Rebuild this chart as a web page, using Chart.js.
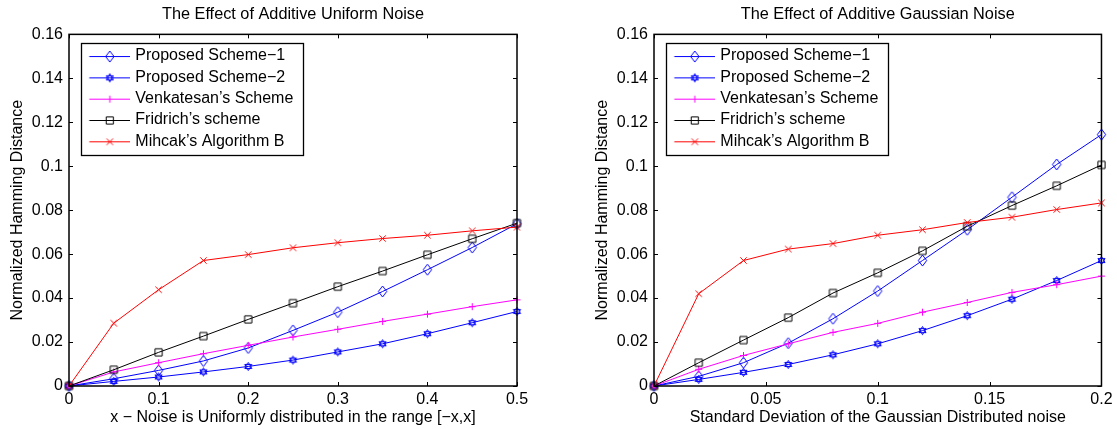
<!DOCTYPE html>
<html>
<head>
<meta charset="utf-8">
<script src="https://cdn.jsdelivr.net/npm/chart.js@4/dist/chart.umd.min.js"></script>
<style>
  html, body { margin: 0; padding: 0; background: #fff; }
  body { width: 1117px; height: 429px; position: relative; overflow: hidden; }
  canvas { position: absolute; top: 0; }
  #uniform-chart { left: 0; }
  #gauss-chart { left: 585px; }
</style>
</head>
<body>
<canvas id="uniform-chart" width="560" height="429"></canvas>
<canvas id="gauss-chart" width="532" height="429"></canvas>
<script>
// ---- data ----
var seriesNames = ["Proposed Scheme\u22121", "Proposed Scheme\u22122", "Venkatesan\u2019s Scheme", "Fridrich\u2019s scheme", "Mihcak\u2019s Algorithm B"];

// uniform noise, x = half width of the range
var xUniform = [0, 0.05, 0.1, 0.15, 0.2, 0.25, 0.3, 0.35, 0.4, 0.45, 0.5];
var scheme1U = [0, 0.0033, 0.0071, 0.0114, 0.0173, 0.0253, 0.0336, 0.0430, 0.0529, 0.0630, 0.0738];
var scheme2U = [0, 0.0021, 0.0041, 0.0064, 0.0089, 0.0118, 0.0155, 0.0192, 0.0238, 0.0288, 0.0339];
var venkatU  = [0, 0.0064, 0.0106, 0.0147, 0.0185, 0.0223, 0.0258, 0.0294, 0.0327, 0.0361, 0.0392];
var fridU    = [0, 0.0074, 0.0153, 0.0227, 0.0303, 0.0377, 0.0452, 0.0523, 0.0597, 0.0670, 0.0741];
var mihcakU  = [0, 0.0286, 0.0438, 0.0571, 0.0598, 0.0629, 0.0652, 0.0671, 0.0686, 0.0706, 0.0723];

// gaussian noise, x = standard deviation
var xGauss   = [0, 0.02, 0.04, 0.06, 0.08, 0.1, 0.12, 0.14, 0.16, 0.18, 0.2];
var scheme1G = [0, 0.0044, 0.0106, 0.0195, 0.0306, 0.0432, 0.0571, 0.0711, 0.0859, 0.1008, 0.1144];
var scheme2G = [0, 0.0030, 0.0062, 0.0098, 0.0142, 0.0192, 0.0252, 0.0320, 0.0395, 0.0480, 0.0571];
var venkatG  = [0, 0.0076, 0.0139, 0.0192, 0.0244, 0.0285, 0.0336, 0.0380, 0.0426, 0.0461, 0.0500];
var fridG    = [0, 0.0106, 0.0209, 0.0311, 0.0423, 0.0515, 0.0615, 0.0727, 0.0821, 0.0911, 0.1006];
var mihcakG  = [0, 0.0420, 0.0571, 0.0623, 0.0648, 0.0686, 0.0711, 0.0744, 0.0768, 0.0803, 0.0833];

var yTicks = [0, 0.02, 0.04, 0.06, 0.08, 0.1, 0.12, 0.14, 0.16];

var colors  = ["#0000ff", "#0000ff", "#ff00ff", "#000000", "#ff0000"];
var markers = ["diamond", "hexagram", "plus", "square", "x"];

Chart.defaults.font.family = "'Liberation Sans', Arial, Helvetica, sans-serif";
Chart.defaults.color = "#000";

// matlab style open markers, drawn on small canvases
function strokeMarker(ctx, kind, c) {
  ctx.beginPath();
  if (kind == "diamond") {
    ctx.moveTo(c, c - 5.5); ctx.lineTo(c + 4.2, c); ctx.lineTo(c, c + 5.5); ctx.lineTo(c - 4.2, c); ctx.closePath();
  } else if (kind == "hexagram") {
    var r = 4.1;
    [-90, 90].forEach(function(start) {
      for (var k = 0; k < 3; k++) {
        var a = (start + k * 120) * Math.PI / 180;
        if (k == 0) ctx.moveTo(c + r * Math.cos(a), c + r * Math.sin(a));
        else ctx.lineTo(c + r * Math.cos(a), c + r * Math.sin(a));
      }
      ctx.closePath();
    });
  } else if (kind == "plus") {
    ctx.moveTo(c - 3.5, c); ctx.lineTo(c + 3.5, c); ctx.moveTo(c, c - 3.5); ctx.lineTo(c, c + 3.5);
  } else if (kind == "square") {
    ctx.rect(c - 3.6, c - 3.6, 7.2, 7.2);
  } else {
    ctx.moveTo(c - 3.2, c - 3.2); ctx.lineTo(c + 3.2, c + 3.2); ctx.moveTo(c + 3.2, c - 3.2); ctx.lineTo(c - 3.2, c + 3.2);
  }
  ctx.stroke();
}

function makeMarker(kind, color) {
  var cv = document.createElement("canvas");
  cv.width = 13; cv.height = 13;
  var ctx = cv.getContext("2d");
  ctx.strokeStyle = color; ctx.lineWidth = 1;
  strokeMarker(ctx, kind, 6.5);
  return cv;
}

// legend sample: short line with the marker in the middle
function makeLegendIcon(kind, color) {
  var cv = document.createElement("canvas");
  cv.width = 46; cv.height = 14;
  var ctx = cv.getContext("2d");
  ctx.strokeStyle = color; ctx.lineWidth = 1;
  ctx.beginPath(); ctx.moveTo(5.5, 7.5); ctx.lineTo(46, 7.5); ctx.stroke();
  ctx.save(); ctx.translate(26 - 6.5 + 0.5, 7.5 - 6.5 + 0.5);
  strokeMarker(ctx, kind, 6);
  ctx.restore();
  return cv;
}

function tickText(v) { return String(Number(Number(v).toFixed(4))); }

// box round the axes, inward ticks on all four sides, frame round the legend
var axesBox = {
  id: "axesBox",
  afterLayout: function(chart) {
    var lg = chart.legend;
    lg.left = chart.chartArea.left + 12;
    lg.top = chart.chartArea.top + 8.4;
  },
  afterDraw: function(chart) {
    var ctx = chart.ctx, a = chart.chartArea, x = chart.scales.x, y = chart.scales.y;
    ctx.save();
    ctx.strokeStyle = "#000";
    ctx.lineWidth = 1;
    ctx.beginPath();
    x.ticks.forEach(function(t) {
      var px = Math.round(x.getPixelForValue(t.value)) + 0.5;
      ctx.moveTo(px, a.bottom); ctx.lineTo(px, a.bottom - 4);
      ctx.moveTo(px, a.top); ctx.lineTo(px, a.top + 4);
    });
    y.ticks.forEach(function(t) {
      var py = Math.round(y.getPixelForValue(t.value)) + 0.5;
      ctx.moveTo(a.left, py); ctx.lineTo(a.left + 4, py);
      ctx.moveTo(a.right, py); ctx.lineTo(a.right - 4, py);
    });
    ctx.stroke();
    ctx.lineWidth = 1.5;
    ctx.strokeRect(a.left, a.top, a.right - a.left, a.bottom - a.top);

    var lg = chart.legend, pad = lg.options.labels.padding;
    var w = Math.max.apply(null, lg.legendHitBoxes.map(function(h) { return h.width; })) + pad + 10;
    var h = lg.legendHitBoxes.length * (16 + pad) + pad;
    ctx.lineWidth = 1.3;
    ctx.strokeRect(Math.round(lg.left) + 0.5, Math.round(lg.top) + 0.5, Math.round(w), Math.round(h));
    ctx.restore();
  }
};

function makeChart(id, title, xTitle, xs, xMax, xStep, values, padRight) {
  var datasets = values.map(function(vals, i) {
    return {
      label: seriesNames[i],
      data: vals.map(function(v, j) { return {x: xs[j], y: v}; }),
      borderColor: colors[i],
      backgroundColor: colors[i],
      borderWidth: 1,
      pointStyle: makeMarker(markers[i], colors[i]),
      pointRadius: 5,
      pointHoverRadius: 5,
      tension: 0,
      clip: false,
      order: values.length - 1 - i
    };
  });
  var icons = values.map(function(v, i) { return makeLegendIcon(markers[i], colors[i]); });

  return new Chart(document.getElementById(id), {
    type: "line",
    data: { datasets: datasets },
    options: {
      responsive: false,
      animation: false,
      events: [],
      layout: { padding: { left: 0, right: padRight, top: 0, bottom: 0 } },
      plugins: {
        title: {
          display: true,
          text: title,
          fullSize: false,
          color: "#000",
          font: { size: 16.3, weight: "normal" },
          padding: { top: 4.9, bottom: 9.9 }
        },
        legend: {
          position: "chartArea",
          align: "start",
          labels: {
            usePointStyle: true,
            pointStyleWidth: 41,
            padding: 5.3,
            color: "#000",
            font: { size: 16 },
            generateLabels: function(chart) {
              return chart.data.datasets.map(function(ds, i) {
                return { text: ds.label, pointStyle: icons[i], fillStyle: ds.borderColor, strokeStyle: ds.borderColor, lineWidth: 0, datasetIndex: i, hidden: false };
              });
            }
          }
        },
        tooltip: { enabled: false }
      },
      scales: {
        x: {
          type: "linear",
          min: 0,
          max: xMax,
          ticks: { stepSize: xStep, padding: 4.4, maxRotation: 0, font: { size: 16 }, color: "#000", callback: tickText },
          grid: { display: false, drawTicks: false },
          border: { display: false },
          title: { display: true, text: xTitle, color: "#000", font: { size: 16 }, padding: { top: 0, bottom: 2 } },
          afterFit: function(s) { s.height = 43; }
        },
        y: {
          type: "linear",
          min: yTicks[0],
          max: yTicks[yTicks.length - 1],
          afterBuildTicks: function(s) { s.ticks = yTicks.map(function(v) { return {value: v}; }); },
          ticks: { padding: 6, font: { size: 16 }, color: "#000", callback: tickText },
          grid: { display: false, drawTicks: false },
          border: { display: false },
          title: { display: true, text: "Normalized Hamming Distance", color: "#000", font: { size: 16 }, padding: { top: 8.4, bottom: 0 } },
          afterFit: function(s) { s.width = 69; }
        }
      }
    },
    plugins: [axesBox]
  });
}

makeChart("uniform-chart", "The Effect of Additive Uniform Noise",
  "x \u2212 Noise is Uniformly distributed in the range [\u2212x,x]",
  xUniform, 0.5, 0.1, [scheme1U, scheme2U, venkatU, fridU, mihcakU], 43);

makeChart("gauss-chart", "The Effect of Additive Gaussian Noise",
  "Standard Deviation of the Gaussian Distributed noise",
  xGauss, 0.2, 0.05, [scheme1G, scheme2G, venkatG, fridG, mihcakG], 15);
</script>
</body>
</html>
